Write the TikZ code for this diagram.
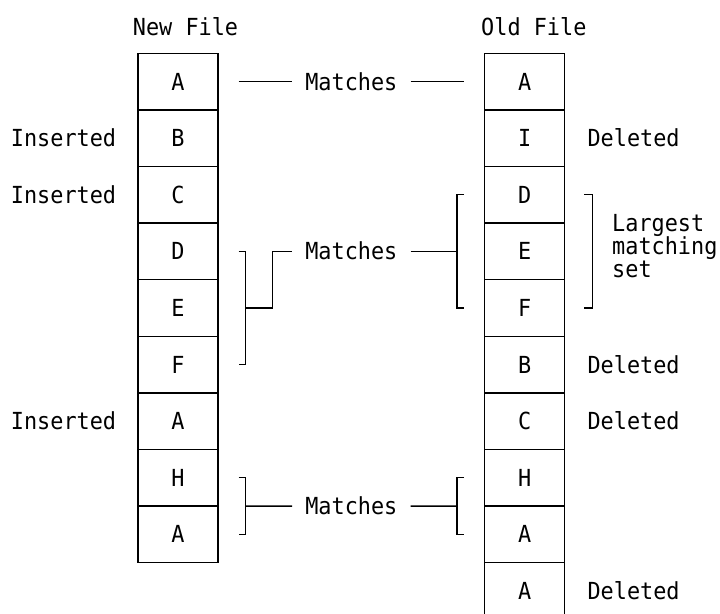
\documentclass[tikz,border=0pt]{standalone}
\usepackage{fontspec}
\setmonofont{DejaVu Sans Mono}[FakeStretch=0.93]
\usetikzlibrary{calc}
\tikzset{
  txt/.style={font=\ttfamily\fontsize{23.5}{27}\selectfont, inner sep=0pt, text height=17pt, text depth=0pt},
  cell/.style={txt, draw, line width=1.3pt, minimum width=80pt, minimum height=56.6pt},
  link/.style={line width=1.3pt},
  mlabel/.style={txt, inner xsep=13pt},
}
\begin{document}
\begin{tikzpicture}[x=1pt,y=-1pt]
\useasboundingbox (0,0) rectangle (720,613);
% columns
\foreach \t [count=\i from 0] in {A,B,C,D,E,F,A,H,A}
  \node[cell] (L\i) at (178,{81.6+56.6*\i}) {\t};
\foreach \t [count=\i from 0] in {A,I,D,E,F,B,C,H,A,A}
  \node[cell] (R\i) at (524.7,{81.6+56.6*\i}) {\t};
% titles
\node[txt,anchor=base west] (newt) at (132.7,35) {New File};
\node[txt,anchor=base west] (oldt) at (481,35) {Old File};
% side labels
\node[txt,anchor=east] (ins1) at ([xshift=-21pt]L1.west) {Inserted};
\node[txt,anchor=east] (ins2) at ([xshift=-21pt]L2.west) {Inserted};
\node[txt,anchor=east] (ins6) at ([xshift=-21pt]L6.west) {Inserted};
\node[txt,anchor=west] (del1) at ([xshift=22pt]R1.east) {Deleted};
\node[txt,anchor=west] (del5) at ([xshift=22pt]R5.east) {Deleted};
\node[txt,anchor=west] (del6) at ([xshift=22pt]R6.east) {Deleted};
\node[txt,anchor=west] (del9) at ([xshift=22pt]R9.east) {Deleted};
% match 1
\node[mlabel] (m1) at ($(L0.east)!0.5!(R0.west)$) {Matches};
\draw[link] ([xshift=20pt]L0.east) -- (m1.west);
\draw[link] (m1.east) -- ([xshift=-20pt]R0.west);
% match 2
\node[mlabel] (m2) at ($(L3.east)!0.5!(R3.west)$) {Matches};
\draw[link] ([xshift=20pt]L3.east) -| ([xshift=27pt]L5.east) -- ([xshift=20pt]L5.east);
\draw[link] ([xshift=27pt]L4.east) -| ([xshift=54pt]L3.east) -- (m2.west);
\draw[link] ([xshift=-20pt]R2.west) -| ([xshift=-27pt]R4.west) -- ([xshift=-20pt]R4.west);
\draw[link] (m2.east) -- ([xshift=-27pt]R3.west);
% match 3
\coordinate (lc) at ($(L7.east)!0.5!(L8.east)$);
\coordinate (rc) at ($(R7.west)!0.5!(R8.west)$);
\node[mlabel] (m3) at ($(lc)!0.5!(rc)$) {Matches};
\draw[link] ([xshift=20pt]L7.east) -| ([xshift=27pt]L8.east) -- ([xshift=20pt]L8.east);
\draw[link] ([xshift=27pt]lc) -- (m3.west);
\draw[link] ([xshift=-20pt]R7.west) -| ([xshift=-27pt]R8.west) -- ([xshift=-20pt]R8.west);
\draw[link] (m3.east) -- ([xshift=-27pt]rc);
% largest matching set
\draw[link] ([xshift=19pt]R2.east) -| ([xshift=27pt]R4.east) -- ([xshift=19pt]R4.east);
\node[txt,anchor=base west] (lg1) at (612,231.7) {Largest};
\node[txt,anchor=base west] (lg2) at (612,254.3) {matching};
\node[txt,anchor=base west] (lg3) at (612,277) {set};
\end{tikzpicture}
\end{document}
